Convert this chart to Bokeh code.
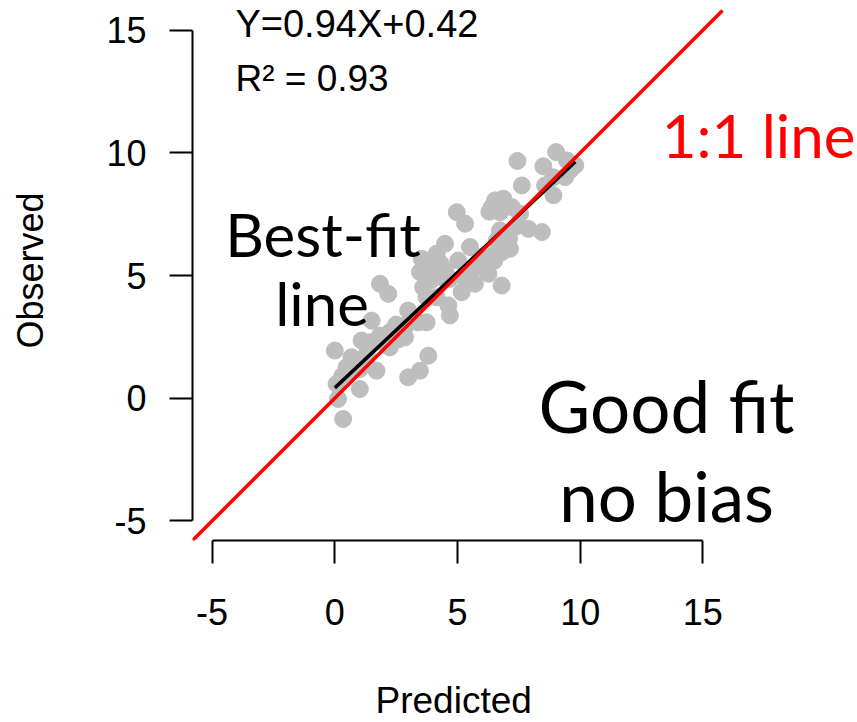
from bokeh.plotting import figure
from bokeh.models import Range1d, FixedTicker, Label, Title
from bokeh.embed import file_html
from bokeh.resources import INLINE

# Observed vs predicted values
predicted = [9.02, 7.44, 9.46, 8.50, 9.80, 9.39, 7.62, 8.57, 8.91, 6.53,
             6.87, 6.40, 7.21, 7.55, 6.73, 4.97, 5.31, 7.89, 8.44, 6.73,
             4.49, 5.51, 6.60, 7.14, 3.54, 4.15, 5.03, 5.92, 6.46, 6.80,
             3.47, 4.01, 4.35, 5.78, 6.26, 6.80, 5.71, 5.17, 4.69, 3.60,
             3.74, 4.15, 1.84, 2.18, 4.63, 4.69, 2.99, 3.74, 3.40, 1.50,
             2.86, 1.84, 1.09, 1.43, 2.24, 2.86, 2.24, 0.00, 0.68, 3.81,
             0.48, 1.02, 1.70, 1.29, 3.47, 2.99, 0.07, 1.02, 0.13, 0.34,
             6.55, 6.95, 6.30, 3.80, 4.30, 3.90, 4.50, 5.60, 6.10, 6.50,
             5.30, 1.30, 1.90, 2.60, 0.30, 0.60, 2.50, 3.10, 7.10, 7.40,
             8.90, 9.60]
observed = [10.03, 9.67, 9.69, 9.45, 9.49, 9.01, 8.67, 8.67, 8.27, 8.06,
            8.13, 7.79, 7.79, 7.52, 7.58, 7.58, 7.11, 6.90, 6.77, 6.84,
            6.29, 6.16, 6.43, 6.09, 5.68, 5.89, 5.61, 5.75, 5.82, 5.95,
            5.14, 5.27, 4.93, 5.41, 5.07, 4.59, 4.66, 4.32, 4.86, 4.52,
            4.11, 4.11, 4.66, 4.25, 3.78, 3.37, 3.57, 3.09, 3.09, 3.16,
            2.89, 2.55, 2.35, 2.28, 2.69, 2.48, 2.07, 1.94, 1.67, 1.73,
            1.26, 1.19, 1.12, 1.46, 1.12, 0.85, 0.58, 0.37, -0.03, -0.85,
            7.95, 7.85, 7.60, 5.50, 5.50, 4.80, 5.20, 5.20, 5.40, 5.60,
            4.90, 1.80, 2.30, 2.40, 0.90, 1.10, 3.00, 3.30, 6.50, 7.00,
            9.00, 9.30]

# Linear fit reported on the chart
slope = 0.94
intercept = 0.42
r_squared = 0.93

ticks = [-5, 0, 5, 10, 15]
tick_labels = {t: str(t) for t in ticks}   # plain hyphen for negatives
usr = (-5.8, 15.8)   # plotting region limits (data units)

px_per_unit = 530 / (usr[1] - usr[0])
frame_w, frame_h = 665, 540

p = figure(width=857, height=722,
           x_range=Range1d(usr[0], usr[0] + frame_w / px_per_unit),
           y_range=Range1d(usr[0], usr[0] + frame_h / px_per_unit),
           output_backend="svg", toolbar_location=None,
           min_border_left=192, min_border_bottom=182,
           min_border_top=0, min_border_right=0)
p.outline_line_color = None
p.xgrid.visible = False
p.ygrid.visible = False
p.background_fill_color = "white"
p.border_fill_color = "white"

for ax in (p.xaxis[0], p.yaxis[0]):
    ax.bounds = (ticks[0], ticks[-1])
    ax.ticker = FixedTicker(ticks=ticks)
    ax.major_label_overrides = tick_labels
    ax.minor_tick_line_color = None
    ax.major_tick_in = 0
    ax.major_tick_out = 23
    ax.axis_line_width = 2
    ax.major_tick_line_width = 2
    ax.axis_line_color = "black"
    ax.major_tick_line_color = "black"
    ax.major_label_text_font = "Liberation Sans"
    ax.major_label_text_font_size = "36px"
    ax.major_label_text_color = "black"
    ax.axis_label_text_font = "Liberation Sans"
    ax.axis_label_text_font_size = "36px"
    ax.axis_label_text_font_style = "normal"
    ax.axis_label_text_color = "black"

p.yaxis.axis_label = "Observed"
p.xaxis.major_label_standoff = 35
p.yaxis.major_label_standoff = 23
p.yaxis.axis_label_standoff = 52

# blank x-axis label keeps room between the tick labels and the title below
p.xaxis.axis_label = " "
p.xaxis.axis_label_text_font_size = "10px"
p.xaxis.axis_label_standoff = 34

# x axis title, centred under the ticked span rather than the whole frame
p.add_layout(Title(text="Predicted", align="left", offset=183, standoff=4,
                   text_font="Liberation Sans", text_font_size="37px",
                   text_font_style="normal", text_color="black"), "below")

# points
p.scatter(predicted, observed, size=17, color="#BEBEBE")

# best-fit line over the range of predictions
x0, x1 = min(predicted), max(predicted)
p.line([x0, x1], [slope * x0 + intercept, slope * x1 + intercept],
       line_color="black", line_width=3.5)

# 1:1 line across the plotting region
p.line([usr[0], usr[1]], [usr[0], usr[1]], line_color="red", line_width=3.5)


def add_label(x, y, text, size, color="black", align="center", font="Lato"):
    p.add_layout(Label(x=x, y=y, text=text, text_font=font,
                       text_font_size=size, text_color=color,
                       text_align=align, text_baseline="alphabetic"))


# fit statistics
add_label(-4.05, 15.23, f"Y={slope}X+{intercept}", "38px",
          align="left", font="Liberation Sans")
add_label(-4.05, 13.04, f"R\u00b2 = {r_squared}", "37px",
          align="left", font="Liberation Sans")

# callouts
add_label(-0.48, 6.71, "Best-fit", "60px")
add_label(-0.52, 3.86, "line", "60px")
add_label(17.27, 10.71, "1:1 line", "60px", color="red")
add_label(13.52, -0.30, "Good fit", "71px")
add_label(13.52, -3.96, "no bias", "69px")

open("out.html", "w").write(file_html(p, INLINE))
